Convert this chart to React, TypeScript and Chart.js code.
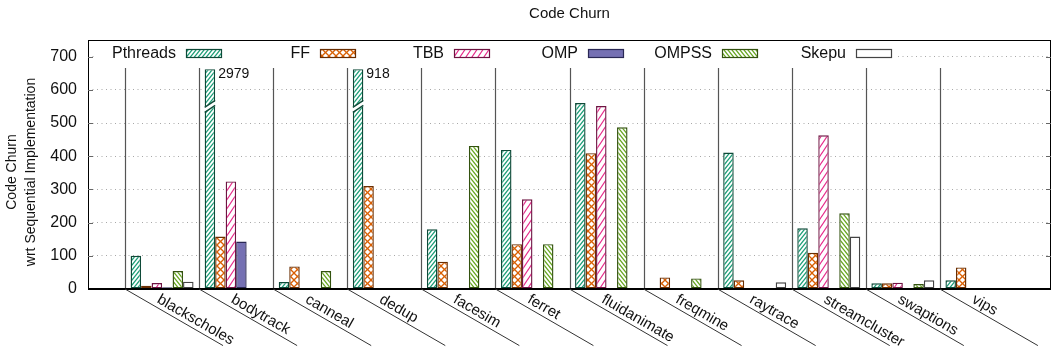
import React, { useEffect, useRef } from 'react';
import { Chart, registerables } from 'chart.js';

Chart.register(...registerables);

const categories = ['blackscholes', 'bodytrack', 'canneal', 'dedup', 'facesim', 'ferret', 'fluidanimate', 'freqmine', 'raytrace', 'streamcluster', 'swaptions', 'vips'];
const seriesNames = ['Pthreads', 'FF', 'TBB', 'OMP', 'OMPSS', 'Skepu'];
const pthreads = [100, 2979, 21, 918, 180, 419, 560, 0, 411, 183, 17, 26];
const ff = [10, 158, 68, 310, 82, 135, 409, 35, 26, 109, 17, 65];
const tbb = [18, 324, 0, 0, 0, 270, 551, 0, 0, 463, 19, 0];
const omp = [5, 143, 0, 0, 0, 0, 0, 0, 0, 0, 0, 0];
const ompss = [54, 0, 54, 0, 431, 135, 487, 32, 0, 228, 15, 0];
const skepu = [22, 0, 0, 0, 0, 0, 0, 0, 20, 158, 26, 0];
const yTicks = [0, 100, 200, 300, 400, 500, 600, 700];
const Y_MAX = 750;
const BREAK_TOP = 662; // height at which off-scale bars are cut
const BREAK_AT = 550; // value where the break mark is drawn
const TITLE = 'Code Churn';
const Y_TITLE = ['Code Churn', 'wrt Sequential Implementation'];

const FONT = "'Liberation Sans', Arial, Helvetica, sans-serif";

type Hatch = { color: string; w: number; h: number; dirs: string[]; lw: number };

function makePattern(ctx: CanvasRenderingContext2D, spec: Hatch | null, solid?: string): CanvasPattern | string {
  if (!spec) return solid || '#fff';
  const c = document.createElement('canvas');
  c.width = spec.w;
  c.height = spec.h;
  const g = c.getContext('2d')!;
  g.fillStyle = '#fff';
  g.fillRect(0, 0, spec.w, spec.h);
  g.strokeStyle = spec.color;
  g.lineWidth = spec.lw;
  const { w, h } = spec;
  for (const d of spec.dirs) {
    for (let n = -1; n <= 1; n++) {
      g.beginPath();
      if (d === '/') {
        g.moveTo(-w, (1 + n) * h + h);
        g.lineTo(2 * w, (1 + n) * h - 2 * h);
      } else {
        g.moveTo(-w, n * h - h);
        g.lineTo(2 * w, n * h + 2 * h);
      }
      g.stroke();
    }
  }
  return ctx.createPattern(c, 'repeat')!;
}

const hatchSpecs: (Hatch | null)[] = [
  { color: '#1b9e77', w: 4, h: 5, dirs: ['/'], lw: 1.3 },
  { color: '#d95f02', w: 7, h: 7, dirs: ['/', '\\'], lw: 1.3 },
  { color: '#e7298a', w: 6, h: 9, dirs: ['/'], lw: 1.2 },
  null,
  { color: '#66a61e', w: 4, h: 5, dirs: ['\\'], lw: 1.3 },
  null,
];
const solidFills = ['', '', '', '#7570b3', '', '#ffffff'];
const borderColors = ['#0e4a38', '#6a2e02', '#6e1442', '#2a2855', '#33520f', '#444444'];

export default function App() {
  const ref = useRef<HTMLCanvasElement | null>(null);

  useEffect(() => {
    const canvas = ref.current!;
    const ctx = canvas.getContext('2d')!;
    const fills = hatchSpecs.map((s, i) => makePattern(ctx, s, solidFills[i]));
    const series = [pthreads, ff, tbb, omp, ompss, skepu];
    const labels = ['', ...categories, ''];

    const decor = {
      id: 'decor',
      beforeDatasetsDraw(chart: any) {
        const c = chart.ctx as CanvasRenderingContext2D;
        const x = chart.scales.x;
        const area = chart.chartArea;
        c.save();
        c.strokeStyle = '#555';
        c.lineWidth = 1.2;
        for (let k = 0; k < categories.length; k++) {
          const sx = Math.round((x.getPixelForValue(k) + x.getPixelForValue(k + 1)) / 2) + 0.5;
          c.beginPath();
          c.moveTo(sx, 68);
          c.lineTo(sx, area.bottom);
          c.stroke();
        }
        c.restore();
      },
      afterDraw(chart: any) {
        const c = chart.ctx as CanvasRenderingContext2D;
        const x = chart.scales.x;
        const y = chart.scales.y;
        const area = chart.chartArea;
        c.save();

        // broken bars
        series.forEach((vals, di) => {
          const meta = chart.getDatasetMeta(di);
          vals.forEach((v, j) => {
            if (v <= BREAK_TOP) return;
            const el = meta.data[j + 1];
            const { x: bx, width } = el.getProps(['x', 'width'], true);
            const L = bx - width / 2;
            const R = bx + width / 2;
            const yb = y.getPixelForValue(BREAK_AT);
            c.fillStyle = '#fff';
            c.beginPath();
            c.moveTo(L - 1.5, yb + 1);
            c.lineTo(R + 1.5, yb - 6);
            c.lineTo(R + 1.5, yb - 1);
            c.lineTo(L - 1.5, yb + 6);
            c.closePath();
            c.fill();
            c.strokeStyle = borderColors[di];
            c.lineWidth = 1.3;
            c.beginPath();
            c.moveTo(L, yb + 1);
            c.lineTo(R, yb - 6);
            c.moveTo(L, yb + 6);
            c.lineTo(R, yb - 1);
            c.stroke();
            c.fillStyle = '#111';
            c.font = `14px ${FONT}`;
            c.textAlign = 'left';
            c.textBaseline = 'middle';
            const top = y.getPixelForValue(BREAK_TOP);
            c.fillText(String(v), R + 3, top + 5);
          });
        });

        // border box
        c.strokeStyle = '#000';
        c.lineWidth = 1;
        c.strokeRect(Math.round(area.left) + 0.5, Math.round(area.top) + 0.5, Math.round(area.right - area.left) - 1, Math.round(area.bottom - area.top));
        c.lineWidth = 2;
        c.beginPath();
        c.moveTo(area.left, Math.round(area.bottom));
        c.lineTo(area.right, Math.round(area.bottom));
        c.stroke();

        // inward ticks
        c.strokeStyle = '#666';
        c.lineWidth = 1;
        yTicks.forEach((t) => {
          if (t === 0) return;
          const py = Math.round(y.getPixelForValue(t)) + 0.5;
          c.beginPath();
          c.moveTo(area.left, py);
          c.lineTo(area.left + 5, py);
          c.moveTo(area.right - 5, py);
          c.lineTo(area.right, py);
          c.stroke();
        });

        // x diagonals and labels
        const tan30 = Math.tan(Math.PI / 6);
        c.strokeStyle = '#333';
        c.lineWidth = 1;
        for (let k = 0; k < categories.length; k++) {
          const sx = (x.getPixelForValue(k) + x.getPixelForValue(k + 1)) / 2;
          c.beginPath();
          c.moveTo(sx, area.bottom);
          c.lineTo(sx + 98, area.bottom + 98 * tan30);
          c.stroke();
        }
        c.fillStyle = '#111';
        c.font = `15px ${FONT}`;
        c.textAlign = 'left';
        c.textBaseline = 'top';
        categories.forEach((name, j) => {
          const cx = x.getPixelForValue(j + 1);
          c.save();
          c.translate(cx, area.bottom + 3);
          c.rotate(Math.PI / 6);
          c.fillText(name, 0, 0);
          c.restore();
        });

        // legend
        c.fillStyle = '#fff';
        c.fillRect(97, 42, 800, 25);
        c.font = `16px ${FONT}`;
        c.textAlign = 'right';
        c.textBaseline = 'middle';
        seriesNames.forEach((name, i) => {
          const sx = 186 + 134 * i;
          c.fillStyle = fills[i] as any;
          c.fillRect(sx, 49, 36, 8);
          c.strokeStyle = borderColors[i];
          c.lineWidth = 1.2;
          c.strokeRect(sx + 0.5, 49.5, 35, 8);
          c.fillStyle = '#111';
          c.fillText(name, sx - 10, 54);
        });

        // chart title
        c.fillStyle = '#111';
        c.font = `15px ${FONT}`;
        c.textAlign = 'center';
        c.textBaseline = 'middle';
        c.fillText(TITLE, (area.left + area.right) / 2, 14);

        // y axis title
        c.save();
        c.translate(22, 172);
        c.rotate(-Math.PI / 2);
        c.textAlign = 'center';
        c.textBaseline = 'middle';
        c.font = `14px ${FONT}`;
        c.fillStyle = '#111';
        c.fillText(Y_TITLE[0], 0, -9.5);
        c.fillText(Y_TITLE[1], 0, 9.5);
        c.restore();

        c.restore();
      },
    };

    const chart = new Chart(canvas, {
      type: 'bar',
      data: {
        labels,
        datasets: series.map((vals, i) => ({
          label: seriesNames[i],
          data: [null, ...vals.map((v) => (v > 0 ? Math.min(v, BREAK_TOP) : null)), null],
          backgroundColor: fills[i] as any,
          borderColor: borderColors[i],
          borderWidth: 1.4,
          borderSkipped: false,
          barPercentage: 1,
          categoryPercentage: 0.85,
        })),
      },
      options: {
        animation: false,
        responsive: true,
        maintainAspectRatio: false,
        layout: { padding: { left: 0, right: 5, top: 40, bottom: 0 } },
        plugins: {
          legend: { display: false },
          tooltip: { enabled: false },
          title: { display: false },
        },
        scales: {
          x: {
            type: 'category',
            offset: false,
            grid: { display: false },
            border: { display: false },
            ticks: { display: false },
            afterFit: (s: any) => {
              s.height = 63;
            },
          },
          y: {
            min: 0,
            max: Y_MAX,
            ticks: {
              color: '#111',
              padding: 11,
              font: { family: FONT, size: 16 },
            },
            afterBuildTicks: (s: any) => {
              s.ticks = yTicks.map((v) => ({ value: v }));
            },
            grid: {
              drawTicks: false,
              color: (c: any) => (c.tick && c.tick.value === 0 ? 'rgba(0,0,0,0)' : '#a8a8a8'),
              lineWidth: 1,
            },
            border: { display: false, dash: [1, 3.5] },
            afterFit: (s: any) => {
              s.width = 88;
            },
          },
        },
      },
      plugins: [decor],
    });
    return () => chart.destroy();
  }, []);

  return (
    <div style={{ position: 'absolute', left: 0, top: 0, width: 1056, height: 352, background: '#fff' }}>
      <canvas ref={ref} />
    </div>
  );
}
